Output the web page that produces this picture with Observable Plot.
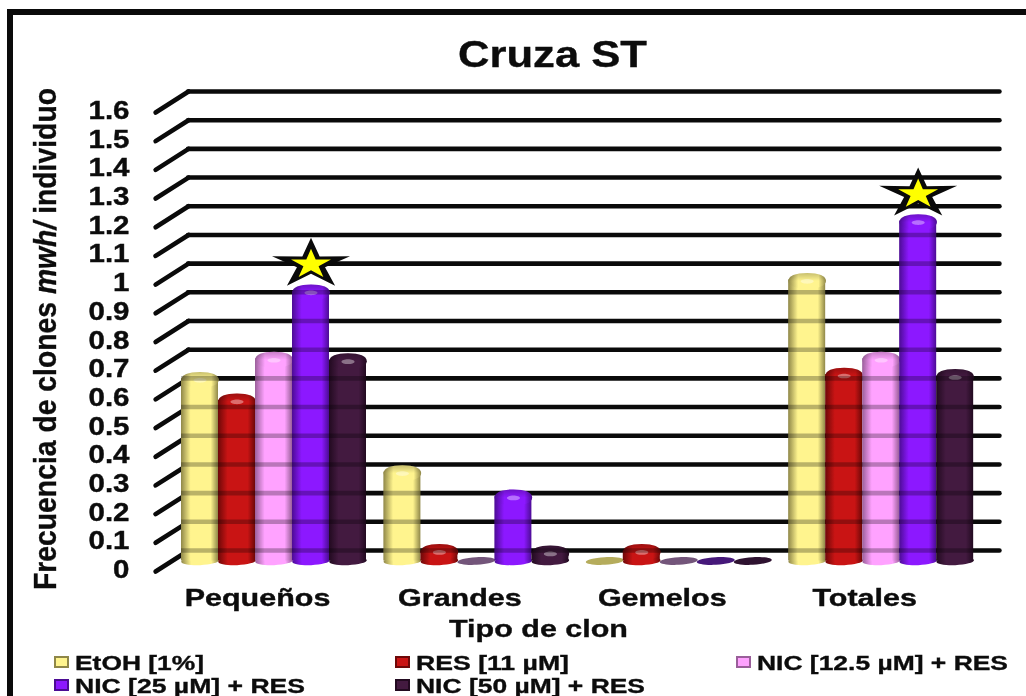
<!DOCTYPE html>
<html lang="es"><head><meta charset="utf-8">
<script src="https://cdn.jsdelivr.net/npm/d3@7"></script>
<script src="https://cdn.jsdelivr.net/npm/@observablehq/plot@0.6"></script>
<style>
html,body{margin:0;padding:0;background:#fff;overflow:hidden;width:1026px;height:696px}
#page{position:relative;width:1026px;height:696px;overflow:hidden;font-family:"Liberation Sans",Arial,sans-serif;font-weight:bold;color:#0c0c0c;filter:blur(.45px)}
#frameTop{position:absolute;left:7px;top:9px;right:0;height:6px;background:#0a0a0a}
#frameLeft{position:absolute;left:7px;top:9px;bottom:0;width:6px;background:#0a0a0a}
.t{position:absolute;white-space:nowrap;transform-origin:0 0;line-height:1;-webkit-text-stroke:.35px #0c0c0c}
.sw{position:absolute;width:11px;height:8px;border:2px solid #444;}
#chart{position:absolute;left:0;top:0}
</style></head><body>
<div id="page">
<div id="frameTop"></div><div id="frameLeft"></div>
<div id="chart"></div>
</div>
<script>
const chartTitle = "Cruza ST";
const yTitleHtml = "Frecuencia de clones <i>mwh/</i> individuo";
const xTitle = "Tipo de clon";
const groups = ["Pequeños","Grandes","Gemelos","Totales"];
const seriesNames = ["EtOH [1%]","RES [11 µM]","NIC [12.5 µM] + RES","NIC [25 µM] + RES","NIC [50 µM] + RES"];
const etoh = [0.635,0.31,0,0.98];
const res = [0.56,0.035,0.035,0.65];
const nic125 = [0.705,0,0,0.705];
const nic25 = [0.94,0.225,0,1.185];
const nic50 = [0.70,0.03,0,0.645];
const allSeries = [etoh,res,nic125,nic25,nic50];
const yTicks = [0,0.1,0.2,0.3,0.4,0.5,0.6,0.7,0.8,0.9,1,1.1,1.2,1.3,1.4,1.5,1.6];
const mainColors = ["#FFF48E","#C91414","#FFA2FF","#8C18FF","#431A40"];
const edgeColors = ["#8F8748","#6E0808","#9A5F9A","#4C0C94","#220A20"];
const diskColors = ["#B5AC5C","#8C0E0E","#73557A","#46187A","#2E1230"];
const starred = [{group:0,series:3},{group:3,series:3}];

const groupStep = 5.47;
const slot = (g,s) => g*groupStep + s;
const rows = allSeries.flatMap((vals,s) => vals.map((v,g) => ({g,s,v,x1:slot(g,s),x2:slot(g,s)+1,xm:slot(g,s)+.5})));
const depth = 10.5/287; // half of the floor depth, in value units

function ellipseSym(ratio,k=.55){return {draw(c,size){
  const rx=Math.sqrt(size/Math.PI),ry=rx*ratio;
  c.moveTo(-rx,0);
  c.bezierCurveTo(-rx,-ry*k,-rx*k,-ry,0,-ry);
  c.bezierCurveTo(rx*k,-ry,rx,-ry*k,rx,0);
  c.bezierCurveTo(rx,ry*k,rx*k,ry,0,ry);
  c.bezierCurveTo(-rx*k,ry,-rx,ry*k,-rx,0);
  c.closePath();
}}}
function starSym(sy,inner){return {draw(c,size){
  const R=Math.sqrt(size/Math.PI);
  for(let i=0;i<10;i++){
    const a=-Math.PI/2+i*Math.PI/5,r=i%2?R*inner:R;
    const px=r*Math.cos(a),py=r*Math.sin(a)*sy;
    i?c.lineTo(px,py):c.moveTo(px,py);
  }
  c.closePath();
}}}

const barMarks = [];
mainColors.forEach((_,s)=>{
  const bars = rows.filter(d=>d.s===s);
  const live = bars.filter(d=>d.v>0);
  const flat = bars.filter(d=>d.v===0);
  barMarks.push(
    Plot.dot(flat,{x:"xm",y:0,r:19,symbol:ellipseSym(.2),rotate:-3,fill:diskColors[s],stroke:"none"}),
    Plot.dot(live,{x:"xm",y:0,r:18.8,symbol:ellipseSym(.22),rotate:-2,fill:`url(#g${s})`,stroke:"none"}),
    Plot.rect(live,{x1:"x1",x2:"x2",y1:0,y2:"v",fill:`url(#g${s})`}),
    Plot.dot(live,{x:"xm",y:"v",dy:1,r:18.8,symbol:ellipseSym(.42,.62),fill:`url(#g${s})`,stroke:"none"}),
    Plot.dot(live,{x:"xm",y:"v",dy:1,r:18.8,symbol:ellipseSym(.42,.62),fill:"url(#capShade)",stroke:"none"}),
    Plot.dot(live,{x:"xm",y:"v",r:6.5,dy:1.5,symbol:ellipseSym(.36),fill:"#fff",fillOpacity:.38,stroke:"none"})
  );
});
// back-wall grid lines showing through the cylinders
const showThrough = rows.flatMap(d=>yTicks.filter(t=>d.v>0 && t+depth<d.v+.01).map(t=>({t:t+depth,x1:d.x1,x2:d.x2})));
const starRows = starred.map(o=>({xm:slot(o.group,o.series)+.5,v:allSeries[o.series][o.group]}));

const plot = Plot.plot({
  width:1026,height:660,marginLeft:135,marginBottom:80,marginTop:0,marginRight:0,
  style:{background:"transparent",overflow:"visible"},
  x:{type:"linear",domain:[0,22],range:[181,995],axis:null},
  y:{type:"linear",domain:[0,1.6],range:[560.5,101.5],axis:null},
  marks:[
    Plot.link(yTicks,{x1:-0.70,x2:0.19,y1:d=>d-depth,y2:d=>d+depth,stroke:"#0a0a0a",strokeWidth:4.6,strokeLinecap:"round"}),
    Plot.ruleY(yTicks,{y:d=>d+depth,x1:0.19,x2:22.12,stroke:"#0a0a0a",strokeWidth:4.6,strokeLinecap:"round"}),
    ...barMarks,
    Plot.ruleY(showThrough,{y:"t",x1:"x1",x2:"x2",stroke:"#000",strokeWidth:4.6,strokeOpacity:.27}),
    Plot.dot(starRows,{x:"xm",y:"v",dy:-27,r:41,symbol:starSym(.646,.36),fill:"#0a0a0a",stroke:"none"}),
    Plot.dot(starRows,{x:"xm",y:"v",dy:-27,r:21,symbol:starSym(.74,.38),fill:"#FFFF00",stroke:"none"}),
    Plot.axisY(yTicks,{anchor:"left",tickSize:0,tickPadding:6,dy:9,tickFormat:d=>String(d),fontSize:25,fontWeight:"bold",fontFamily:"Liberation Sans",fill:"#0c0c0c",label:null,className:"yax"}),
    Plot.axisX(groups.map((_,g)=>slot(g,2.5)),{anchor:"bottom",tickSize:0,tickPadding:8,dx:-16.5,tickFormat:d=>groups[Math.round((d-2.5)/groupStep)],fontSize:24,fontWeight:"bold",fontFamily:"Liberation Sans",fill:"#0c0c0c",label:null,className:"xax"})
  ]
});
const page=document.getElementById("page");
document.getElementById("chart").appendChild(plot);

// cylinder shading
const ns="http://www.w3.org/2000/svg";
const defs=document.createElementNS(ns,"defs");
mainColors.forEach((col,i)=>{
  const g=document.createElementNS(ns,"linearGradient");
  g.id="g"+i;
  [[0,edgeColors[i]],[.26,col],[.8,col],[1,edgeColors[i]]].forEach(([o,c])=>{
    const st=document.createElementNS(ns,"stop");
    st.setAttribute("offset",o);st.setAttribute("stop-color",c);g.appendChild(st);
  });
  defs.appendChild(g);
});
const cap=document.createElementNS(ns,"linearGradient");
cap.id="capShade";cap.setAttribute("x1",0);cap.setAttribute("x2",0);cap.setAttribute("y1",0);cap.setAttribute("y2",1);
[[0,.22],[.5,0]].forEach(([o,a])=>{
  const st=document.createElementNS(ns,"stop");
  st.setAttribute("offset",o);st.setAttribute("stop-color","#000");st.setAttribute("stop-opacity",a);cap.appendChild(st);
});
defs.appendChild(cap);
plot.appendChild(defs);

// wide-set lettering of the original
function widen(sel,f){plot.querySelectorAll(sel+" text").forEach(t=>{
  t.setAttribute("lengthAdjust","spacingAndGlyphs");
  t.setAttribute("textLength",t.getComputedTextLength()*f);
  t.style.stroke="#0c0c0c";t.style.strokeWidth=".4px";
});}
widen(".yax",1.18);widen(".xax",1.27);

function addText(html,left,top,size,width,rotate){
  const d=document.createElement("div");
  d.className="t";d.innerHTML=html;d.style.left=left+"px";d.style.top=top+"px";d.style.fontSize=size+"px";
  page.appendChild(d);
  const w=d.getBoundingClientRect().width;
  const sx=width/w;
  d.style.transform=(rotate?`rotate(-90deg) `:"")+`scaleX(${sx})`;
  return d;
}
addText(chartTitle,458,37,36,189);
addText(xTitle,449,617,24,179);
addText(yTitleHtml,30,590,31,502,true);
const legendPos=[[54,75,652],[395,416,652],[736,757,652],[54,75,675],[395,416,675]];
const legendWidths=[129,153,251,230,229];
seriesNames.forEach((n,i)=>{
  const [sx,tx,ty]=legendPos[i];
  const s=document.createElement("div");s.className="sw";
  s.style.left=sx+"px";s.style.top=(ty+4)+"px";s.style.background=mainColors[i];s.style.borderColor=edgeColors[i];
  page.appendChild(s);
  addText(n,tx,ty,21,legendWidths[i]);
});
</script>
</body></html>
